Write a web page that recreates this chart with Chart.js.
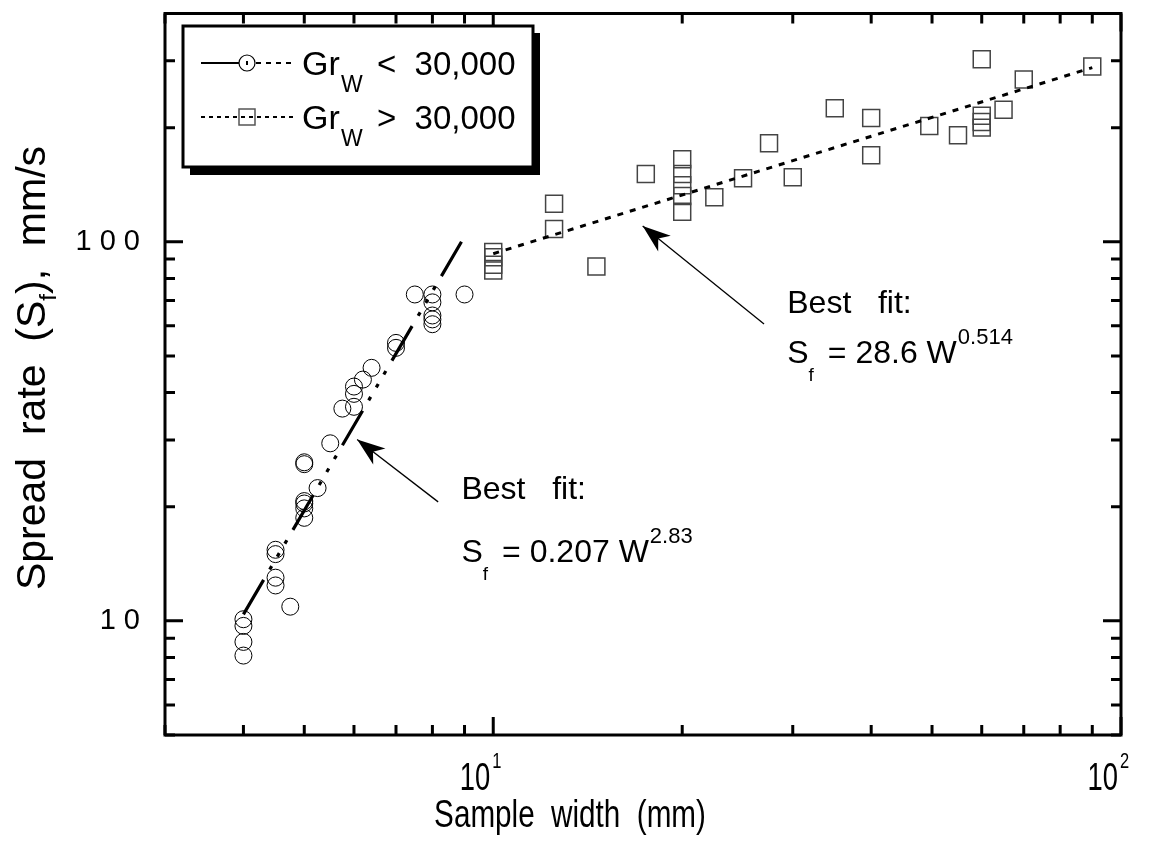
<!DOCTYPE html>
<html>
<head>
<meta charset="utf-8">
<script src="https://cdn.jsdelivr.net/npm/chart.js@4.4.0/dist/chart.umd.min.js"></script>
<style>
  html, body { margin: 0; padding: 0; background: #fff; }
  #wrap { width: 1149px; height: 841px; }
</style>
</head>
<body>
<div id="wrap"><canvas id="chart" width="1149" height="841"></canvas></div>
<script>
// sample width (mm) and spread rate (mm/s), Gr_W < 30,000
const lowW = [4, 4, 4, 4, 4.5, 4.5, 4.5, 4.5, 4.75, 5, 5, 5, 5, 5, 5, 5.25, 5.5, 5.75,
  6, 6, 6, 6.2, 6.4, 7, 7, 7.5, 8, 8, 8, 8, 8, 9];
const lowS = [8.1, 8.8, 9.7, 10.1, 15.4, 15.0, 13.0, 12.4, 10.9, 26.2, 25.9, 20.7, 20.4, 19.8, 18.7, 22.4, 29.4, 36.3,
  36.7, 39.7, 41.5, 43.3, 46.5, 54.1, 52.5, 72.6, 72.6, 69.2, 63.9, 62.4, 60.6, 72.6];

// Gr_W > 30,000
const highW = [10, 10, 10, 10, 12.5, 12.5, 14.6, 17.5, 20, 20, 20, 20, 20, 22.5, 25, 27.5, 30, 35,
  40, 40, 49.5, 55, 60, 60, 60, 60, 65, 70, 90];
const highS = [94, 91, 87, 84, 126, 108, 86, 151, 165, 151, 141, 132, 120, 131, 147, 182, 148, 225,
  212, 169, 202, 191, 303, 215, 207, 200, 223, 268, 290];

// best fit lines (end points)
const fitLowW = [4, 8.9];
const fitLowS = [10.4, 100];
const fitHighW = [10, 90];
const fitHighS = [93, 288];

const xTicks = [3, 4, 5, 6, 7, 8, 9, 10, 20, 30, 40, 50, 60, 70, 80, 90, 100];
const xMajor = { 10: "1", 100: "2" }; // exponents of 10
const yTicks = [5, 6, 7, 8, 9, 10, 20, 30, 40, 50, 60, 70, 80, 90, 100, 200, 300, 400];
const yMajor = { 10: "10", 100: "100" };

const legendNames = ["<  30,000", ">  30,000"];

// arrows: [tailW, tailS, tipW, tipS]
const arrows = [
  [27.0, 60.7, 17.3, 110],
  [8.17, 20.6, 6.07, 30.1],
];
// notes: [W, S of "Best fit" baseline, line gap, coefficient, exponent]
const notes = [
  [29.4, 64.8, 50, "28.6", "0.514"],
  [8.9, 20.9, 63, "0.207", "2.83"],
];

const FONT = "'Liberation Sans', Arial, sans-serif";
const toPts = (xs, ys) => xs.map((x, i) => ({ x: x, y: ys[i] }));

const drawArrow = (ctx, x1, y1, x2, y2) => {
  const ang = Math.atan2(y2 - y1, x2 - x1);
  ctx.save();
  ctx.strokeStyle = "#000";
  ctx.lineWidth = 1.3;
  ctx.beginPath();
  ctx.moveTo(x1, y1);
  ctx.lineTo(x2, y2);
  ctx.stroke();
  ctx.translate(x2, y2);
  ctx.rotate(ang);
  ctx.fillStyle = "#000";
  ctx.beginPath();
  ctx.moveTo(0, 0);
  ctx.lineTo(-28, -10);
  ctx.lineTo(-20, 0);
  ctx.lineTo(-28, 10);
  ctx.closePath();
  ctx.fill();
  ctx.restore();
};

// draws text squeezed horizontally, like the narrow axis font of the original
const narrowText = (ctx, text, x, y, sx, align) => {
  ctx.save();
  ctx.translate(x, y);
  ctx.scale(sx, 1);
  ctx.textAlign = align;
  ctx.fillText(text, 0, 0);
  ctx.restore();
};

const decor = {
  id: "decor",
  beforeDraw(chart) {
    chart.ctx.letterSpacing = "8px";
  },
  beforeDatasetsDraw(chart) {
    chart.ctx.letterSpacing = "0px";
  },
  afterDraw(chart) {
    const ctx = chart.ctx;
    const a = chart.chartArea;
    const xs = chart.scales.x;
    const ys = chart.scales.y;
    ctx.save();
    ctx.letterSpacing = "0px";

    // frame
    ctx.strokeStyle = "#000";
    ctx.lineWidth = 3;
    ctx.strokeRect(a.left, a.top, a.right - a.left, a.bottom - a.top);

    // inward ticks on all sides
    ctx.beginPath();
    xs.ticks.forEach((t) => {
      const px = xs.getPixelForValue(t.value);
      const len = xMajor[t.value] ? 18 : 10;
      ctx.moveTo(px, a.bottom);
      ctx.lineTo(px, a.bottom - len);
      ctx.moveTo(px, a.top);
      ctx.lineTo(px, a.top + len);
    });
    ys.ticks.forEach((t) => {
      const py = ys.getPixelForValue(t.value);
      const len = yMajor[t.value] ? 18 : 10;
      ctx.moveTo(a.left, py);
      ctx.lineTo(a.left + len, py);
      ctx.moveTo(a.right, py);
      ctx.lineTo(a.right - len, py);
    });
    ctx.stroke();

    ctx.fillStyle = "#000";
    ctx.textBaseline = "alphabetic";

    // x tick labels 10^n
    xs.ticks.forEach((t) => {
      const e = xMajor[t.value];
      if (!e) return;
      const px = xs.getPixelForValue(t.value);
      ctx.font = "38px " + FONT;
      narrowText(ctx, "10", px - 3, 790, 0.72, "right");
      ctx.font = "22px " + FONT;
      narrowText(ctx, e, px - 1, 768, 0.75, "left");
    });

    // axis titles
    ctx.font = "38px " + FONT;
    narrowText(ctx, "Sample  width  (mm)", 570, 827, 0.78, "center");

    ctx.save();
    ctx.translate(45, 368);
    ctx.rotate(-Math.PI / 2);
    const big = "41px " + FONT;
    const small = "24px " + FONT;
    const parts = [["Spread  rate  (S", big, 0], ["f", small, 11], ["),  mm/s", big, 0]];
    let total = 0;
    parts.forEach((p) => { ctx.font = p[1]; total += ctx.measureText(p[0]).width; });
    let cx = -total / 2;
    ctx.textAlign = "left";
    parts.forEach((p) => {
      ctx.font = p[1];
      ctx.fillText(p[0], cx, p[2]);
      cx += ctx.measureText(p[0]).width;
    });
    ctx.restore();

    // arrows and fit notes
    arrows.forEach((r) => {
      drawArrow(ctx, xs.getPixelForValue(r[0]), ys.getPixelForValue(r[1]),
        xs.getPixelForValue(r[2]), ys.getPixelForValue(r[3]));
    });
    ctx.textAlign = "left";
    notes.forEach((n) => {
      const px = xs.getPixelForValue(n[0]);
      const py = ys.getPixelForValue(n[1]);
      ctx.font = "32px " + FONT;
      ctx.fillText("Best   fit:", px, py);
      const by = py + n[2];
      ctx.fillText("S", px, by);
      let x = px + ctx.measureText("S").width;
      ctx.font = "19px " + FONT;
      ctx.fillText("f", x, by + 18);
      x += ctx.measureText("f").width + 14;
      ctx.font = "32px " + FONT;
      const mid = "= " + n[3] + " W";
      ctx.fillText(mid, x, by);
      x += ctx.measureText(mid).width + 1;
      ctx.font = "22px " + FONT;
      ctx.fillText(n[4], x, by - 19);
    });

    // legend box with shadow
    ctx.fillStyle = "#000";
    ctx.fillRect(190, 33, 350, 142);
    ctx.fillStyle = "#fff";
    ctx.fillRect(183, 26, 350, 141);
    ctx.lineWidth = 3;
    ctx.strokeRect(183, 26, 350, 141);

    const rows = [63, 117];
    // row 1: circle
    ctx.lineWidth = 2;
    ctx.beginPath();
    ctx.moveTo(201, rows[0]);
    ctx.lineTo(239, rows[0]);
    ctx.stroke();
    ctx.setLineDash([5, 5]);
    ctx.beginPath();
    ctx.moveTo(256, rows[0]);
    ctx.lineTo(293, rows[0]);
    ctx.stroke();
    ctx.setLineDash([]);
    ctx.lineWidth = 1.2;
    ctx.beginPath();
    ctx.arc(247, rows[0], 8, 0, Math.PI * 2);
    ctx.stroke();
    ctx.fillStyle = "#000";
    ctx.fillRect(246, rows[0] - 2, 2, 4);
    // row 2: square
    ctx.lineWidth = 2;
    ctx.setLineDash([4, 4]);
    ctx.beginPath();
    ctx.moveTo(201, rows[1]);
    ctx.lineTo(293, rows[1]);
    ctx.stroke();
    ctx.setLineDash([]);
    ctx.strokeStyle = "#555";
    ctx.lineWidth = 1.5;
    ctx.strokeRect(239, rows[1] - 8, 16, 16);

    ctx.fillStyle = "#000";
    rows.forEach((ry, i) => {
      ctx.font = "34px " + FONT;
      ctx.fillText("Gr", 302, ry + 12);
      ctx.font = "23px " + FONT;
      ctx.fillText("W", 341, ry + 29);
      ctx.font = "33px " + FONT;
      ctx.fillText(legendNames[i], 377, ry + 12);
    });
    ctx.restore();
  },
};

new Chart(document.getElementById("chart"), {
  type: "scatter",
  data: {
    datasets: [
      {
        label: "fit low",
        data: toPts(fitLowW, fitLowS),
        showLine: true,
        borderColor: "#000",
        borderWidth: 3.2,
        borderDash: [40, 12, 4, 11, 4, 11, 4, 12],
        pointRadius: 0,
      },
      {
        label: "fit high",
        data: toPts(fitHighW, fitHighS),
        showLine: true,
        borderColor: "#000",
        borderWidth: 3,
        borderDash: [6, 7],
        pointRadius: 0,
      },
      {
        label: "Gr_W < 30,000",
        data: toPts(lowW, lowS),
        pointStyle: "circle",
        pointRadius: 8.5,
        borderColor: "#000",
        borderWidth: 1,
        backgroundColor: "rgba(0,0,0,0)",
      },
      {
        label: "Gr_W > 30,000",
        data: toPts(highW, highS),
        pointStyle: "rect",
        pointRadius: 12,
        borderColor: "#444",
        borderWidth: 1.5,
        backgroundColor: "rgba(0,0,0,0)",
      },
    ],
  },
  options: {
    responsive: false,
    animation: false,
    devicePixelRatio: 1,
    layout: { padding: { top: 9, right: 28, left: 0, bottom: 0 } },
    plugins: { legend: { display: false }, tooltip: { enabled: false } },
    scales: {
      x: {
        type: "logarithmic",
        min: 3,
        max: 100,
        grid: { display: false, drawTicks: false },
        border: { display: false },
        afterBuildTicks: (s) => { s.ticks = xTicks.map((v) => ({ value: v })); },
        afterFit: (s) => {
          s.height = 106;
          s.paddingLeft = 0;
          s.paddingRight = 0;
        },
        ticks: { autoSkip: false, display: false },
      },
      y: {
        type: "logarithmic",
        min: 5,
        max: 400,
        grid: { display: false, drawTicks: false },
        border: { display: false },
        afterBuildTicks: (s) => { s.ticks = yTicks.map((v) => ({ value: v })); },
        afterFit: (s) => {
          s.width = 165;
          s.paddingTop = 0;
          s.paddingBottom = 0;
        },
        ticks: {
          autoSkip: false,
          padding: 17,
          color: "#000",
          font: { family: FONT, size: 29 },
          callback: (v) => yMajor[v] || "",
        },
      },
    },
  },
  plugins: [decor],
});
</script>
</body>
</html>
